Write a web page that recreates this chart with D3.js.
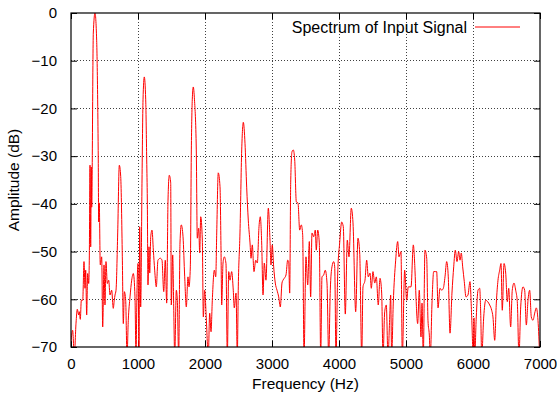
<!DOCTYPE html>
<html>
<head>
<meta charset="utf-8">
<script src="https://cdn.jsdelivr.net/npm/d3@7"></script>
<style>
  body { margin: 0; background: #fff; }
  text { font-family: "Liberation Sans", Arial, sans-serif; }
</style>
</head>
<body>
<svg id="chart"></svg>
<script>
// spectrum: frequency (Hz) and amplitude (dB)
const freqHz = [
  0, 25, 49, 75, 94, 115, 124, 139, 154, 175, 194, 209, 219, 234, 249, 264, 273, 284, 294, 303,
  309, 333, 358, 383, 398, 407, 413, 422, 437, 458, 473, 493, 507, 522, 542, 563, 582, 607, 631, 646,
  657, 672, 697, 721, 742, 766, 781, 796, 816, 836, 855, 881, 906, 930, 955, 970, 985, 1000, 1015, 1025,
  1040, 1060, 1075, 1094, 1115, 1130, 1139, 1149, 1164, 1175, 1190, 1209, 1229, 1249, 1273, 1298, 1333, 1358, 1384, 1407,
  1428, 1448, 1467, 1488, 1497, 1518, 1533, 1548, 1572, 1587, 1607, 1627, 1646, 1672, 1697, 1721, 1746, 1761, 1781, 1796,
  1810, 1825, 1843, 1870, 1885, 1906, 1921, 1936, 1960, 1975, 1995, 2019, 2049, 2070, 2090, 2109, 2139, 2160, 2175, 2198,
  2224, 2239, 2249, 2269, 2288, 2313, 2333, 2354, 2373, 2398, 2422, 2437, 2463, 2482, 2497, 2522, 2548, 2572, 2597, 2622,
  2646, 2672, 2687, 2706, 2731, 2757, 2781, 2806, 2825, 2846, 2866, 2885, 2910, 2945, 2970, 2985, 3004, 3025, 3049, 3075,
  3100, 3124, 3149, 3164, 3183, 3209, 3234, 3249, 3264, 3279, 3298, 3318, 3339, 3363, 3388, 3413, 3437, 3458, 3478, 3507,
  3533, 3557, 3577, 3597, 3622, 3646, 3661, 3682, 3706, 3727, 3746, 3772, 3795, 3821, 3846, 3870, 3895, 3921, 3936, 3955,
  3981, 4010, 4040, 4064, 4094, 4124, 4149, 4183, 4209, 4249, 4283, 4309, 4339, 4358, 4388, 4413, 4437, 4463, 4482, 4507,
  4533, 4557, 4586, 4612, 4637, 4657, 4682, 4706, 4731, 4757, 4771, 4786, 4810, 4846, 4876, 4895, 4925, 4945, 4980, 5010,
  5034, 5075, 5109, 5134, 5149, 5174, 5198, 5224, 5239, 5258, 5283, 5309, 5328, 5348, 5363, 5388, 5413, 5437, 5458, 5478,
  5507, 5533, 5557, 5582, 5607, 5631, 5657, 5686, 5712, 5736, 5761, 5786, 5806, 5825, 5846, 5870, 5895, 5925, 5955, 5981,
  6004, 6015, 6025, 6049, 6075, 6100, 6115, 6130, 6160, 6190, 6219, 6249, 6279, 6298, 6324, 6348, 6373, 6398, 6418, 6437,
  6463, 6488, 6512, 6533, 6562, 6586, 6612, 6637, 6661, 6686, 6712, 6746, 6771, 6796, 6821, 6846, 6870, 6895, 6921, 6945,
  6970, 6995
];
const amplitudeDb = [
  -68.9, -66.5, -72, -65.0, -62.1, -63.3, -62.6, -64.2, -60.2, -60.2, -52.1, -57.7, -53.9, -63.3, -54.6, -56.7, -51.8, -31.9, -49.0, -32.3,
  -40.7, -4.2, 0, -5.7, -18.2, -30.8, -43.8, -39.8, -52.8, -51.1, -65.8, -52.8, -61.2, -52.1, -56.7, -56.0, -59.1, -58.1, -61.9, -60.2,
  -59.1, -58.1, -46.1, -31.9, -34.3, -51.1, -65.1, -58.4, -60.2, -72, -64.4, -59.5, -56.0, -54.6, -59.5, -72, -58.1, -52.5, -72, -44.8,
  -61.6, -35.0, -18.2, -13.4, -18.2, -30.8, -39.2, -57.0, -49.0, -54.5, -46.9, -45.5, -49.7, -53.9, -57.4, -51.8, -51.4, -51.8, -58.4, -51.8,
  -60.8, -39.2, -34.0, -35.6, -61.2, -50.7, -61.6, -72, -58.1, -60.2, -72, -48.2, -44.4, -46.9, -55.3, -61.6, -55.3, -57.4, -53.2, -28.7,
  -18.2, -15.5, -18.2, -28.7, -47.2, -45.1, -50.3, -42.7, -47.6, -63.7, -58.1, -63.9, -72, -62.9, -66.8, -60.2, -53.9, -55.3, -46.1, -33.5,
  -36.4, -49.7, -61.2, -52.4, -51.1, -52.5, -72, -54.2, -56.0, -54.2, -58.1, -61.8, -58.7, -72, -57.4, -46.1, -28.7, -22.9, -27.3, -36.5,
  -43.4, -48.2, -51.4, -48.6, -54.2, -51.8, -52.4, -44.8, -42.7, -48.2, -59.1, -52.4, -56.0, -40.9, -47.6, -52.8, -48.6, -53.2, -56.6, -58.1,
  -59.5, -61.6, -56.6, -56.0, -55.6, -54.9, -51.8, -52.1, -58.7, -35.6, -29.1, -28.7, -30.8, -39.6, -39.8, -45.5, -44.4, -46.5, -72, -51.1,
  -57.0, -47.9, -59.5, -46.1, -46.9, -45.5, -49.7, -45.5, -48.2, -72, -55.3, -54.9, -53.9, -56.6, -72, -58.1, -53.2, -52.1, -53.2, -72,
  -54.5, -48.2, -43.8, -44.8, -63.1, -47.6, -51.1, -40.9, -44.0, -62.6, -47.2, -50.3, -72, -57.4, -56.0, -51.8, -55.3, -54.5, -57.7, -54.2,
  -56.6, -55.3, -61.2, -55.6, -58.7, -72, -62.6, -61.2, -72, -63.7, -59.1, -72, -60.8, -51.8, -47.9, -51.1, -50.0, -72, -53.9, -60.2,
  -57.4, -57.4, -48.6, -53.9, -59.5, -65.1, -58.1, -67.9, -60.8, -72, -49.7, -51.4, -64.4, -67.5, -72, -60.8, -54.2, -54.2, -54.2, -61.8,
  -57.7, -58.1, -57.7, -55.3, -52.1, -55.3, -67.1, -58.7, -53.2, -49.7, -52.1, -50.0, -51.8, -50.3, -53.2, -56.3, -59.5, -59.1, -56.3, -63.9,
  -72, -63.9, -72, -63.7, -58.1, -57.7, -62.9, -72, -63.7, -60.2, -60.5, -61.2, -62.3, -63.7, -68.6, -60.8, -56.0, -53.9, -52.5, -62.3,
  -52.5, -54.5, -60.5, -57.7, -65.8, -58.1, -56.6, -58.1, -60.5, -72, -61.6, -57.4, -58.1, -65.4, -60.2, -58.1, -63.7, -64.4, -62.9, -61.8,
  -64.4, -72
];
const xTicks = [0, 1000, 2000, 3000, 4000, 5000, 6000, 7000];
const yTicks = [-70, -60, -50, -40, -30, -20, -10, 0];
const seriesName = "Spectrum of Input Signal";

const width = 557;
const height = 394;
const margin = { top: 13, right: 17, bottom: 47, left: 71 };
const innerW = width - margin.left - margin.right;
const innerH = height - margin.top - margin.bottom;

const svg = d3.select("#chart")
  .attr("width", width)
  .attr("height", height);

const g = svg.append("g")
  .attr("transform", `translate(${margin.left},${margin.top})`);

const x = d3.scaleLinear().domain([0, 7000]).range([0, innerW]);
const y = d3.scaleLinear().domain([-70, 0]).range([innerH, 0]);

// dotted grid
g.append("g")
  .selectAll("line")
  .data(xTicks.slice(1, -1))
  .join("line")
  .attr("x1", d => x(d)).attr("x2", d => x(d))
  .attr("y1", 0).attr("y2", innerH);

g.append("g")
  .selectAll("line")
  .data(yTicks.slice(1, -1))
  .join("line")
  .attr("x1", 0).attr("x2", innerW)
  .attr("y1", d => y(d)).attr("y2", d => y(d));

g.selectAll("g line")
  .attr("stroke", "#000")
  .attr("stroke-opacity", 0.75)
  .attr("stroke-width", 1)
  .attr("stroke-dasharray", "1,2")
  .attr("shape-rendering", "crispEdges");

// axes, ticks pointing inwards like gnuplot
const fmt = d3.format("d");
const axisStyle = sel => {
  sel.select(".domain").remove();
  sel.selectAll("text")
    .attr("font-size", "15px")
    .attr("fill", "#000");
  sel.selectAll(".tick line").attr("stroke", "#000");
};

g.append("g")
  .attr("transform", `translate(0,${innerH})`)
  .call(d3.axisBottom(x).tickValues(xTicks).tickFormat(fmt).tickSize(-6).tickPadding(11))
  .call(axisStyle);

g.append("g")
  .call(d3.axisTop(x).tickValues(xTicks).tickSize(-6).tickFormat(""))
  .call(axisStyle);

g.append("g")
  .call(d3.axisLeft(y).tickValues(yTicks).tickFormat(fmt).tickSize(-6).tickPadding(14))
  .call(axisStyle);

g.append("g")
  .attr("transform", `translate(${innerW},0)`)
  .call(d3.axisRight(y).tickValues(yTicks).tickSize(-6).tickFormat(""))
  .call(axisStyle);

// spectrum line
svg.append("defs").append("clipPath")
  .attr("id", "plot-clip")
  .append("rect")
  .attr("width", innerW)
  .attr("height", innerH);

const line = d3.line()
  .x(d => x(d[0]))
  .y(d => y(d[1]))
  .curve(d3.curveMonotoneX);

g.append("path")
  .datum(d3.zip(freqHz, amplitudeDb))
  .attr("clip-path", "url(#plot-clip)")
  .attr("fill", "none")
  .attr("stroke", "#ff0000")
  .attr("stroke-width", 1)
  .attr("d", line);

// border
g.append("rect")
  .attr("width", innerW)
  .attr("height", innerH)
  .attr("fill", "none")
  .attr("stroke", "#000")
  .attr("stroke-width", 1.2);

// legend
g.append("text")
  .attr("x", 396)
  .attr("y", 20)
  .attr("text-anchor", "end")
  .attr("font-size", "16px")
  .text(seriesName);

g.append("line")
  .attr("x1", 404).attr("x2", 449)
  .attr("y1", 14).attr("y2", 14)
  .attr("stroke", "#ff0000")
  .attr("stroke-width", 1);

// axis titles
svg.append("text")
  .attr("x", margin.left + innerW / 2)
  .attr("y", 389)
  .attr("text-anchor", "middle")
  .attr("font-size", "15.5px")
  .text("Frequency (Hz)");

svg.append("text")
  .attr("transform", `translate(19,${margin.top + innerH / 2}) rotate(-90)`)
  .attr("text-anchor", "middle")
  .attr("font-size", "15.5px")
  .text("Amplitude (dB)");
</script>
</body>
</html>
